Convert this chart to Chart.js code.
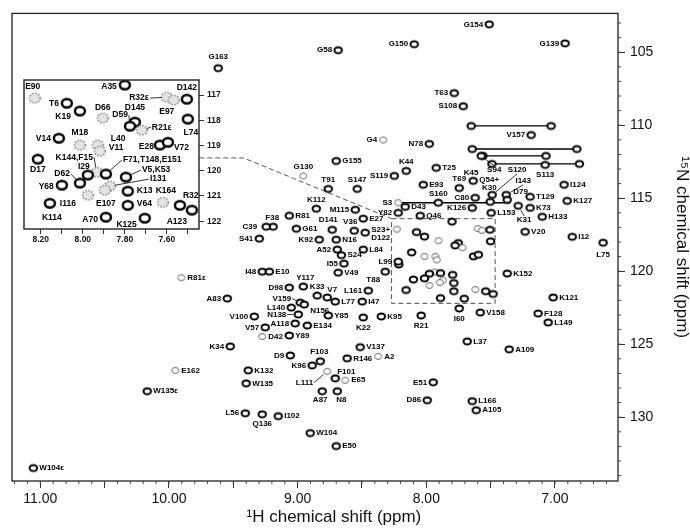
<!DOCTYPE html>
<html>
<head>
<meta charset="utf-8">
<script src="https://cdn.jsdelivr.net/npm/chart.js@4.4.0/dist/chart.umd.min.js"></script>
<style>
  html, body { margin: 0; padding: 0; background: #fff; }
  #wrap { position: relative; width: 690px; height: 528px; }
  #main { position: absolute; left: 0; top: 0; }
  #inset { position: absolute; left: 14px; top: 70px; }
</style>
</head>
<body>
<div id="wrap">
  <canvas id="main" width="690" height="528"></canvas>
  <canvas id="inset" width="240" height="190"></canvas>
</div>
<script>
// assigned peaks outside the boxed region (1H ppm, 15N ppm)
const mainNames = ['G163','G58','G150','G154','G139','T63','S108','V157','G4','N78','G155','K44','T25','G130','S119','T91','S147','E93','T69','K45',
  'K112','S3','D43','Y82','S160','C80','Q54+\nK30','S120','S94','K126','Q46','I143','D79','K31','T129','K73','H133','L153','V20','I12',
  'L75','I124','K127','S113','M115','E27','F38','C39','R81','G61','S41','D141','V36','S23+\nD122','K92','N16','A52','S24','L84','L99',
  'I55','I48','E10','V49','T88','R81ε','A83','D98','Y117','K33','V7','L77','L161','I47','V159','L140','N156','N138','V100','Y85',
  'K22','K95','R21','I60','A118','E134','V57','D42','Y89','K34','V137','A2','R146','D9','F103','K96','K132','W135','E162','W135ε',
  'F101','L111','E65','E51','A87','N8','D86','L166','A105','L56','Q136','I102','W104','E50','W104ε','L37','A109','K152','K121','V158',
  'F128','L149'];
const mainH = [9.617,8.685,8.094,7.511,6.921,7.783,7.713,7.185,8.335,7.977,8.700,8.156,7.923,8.956,8.249,8.762,8.537,8.024,7.744,7.636,
  8.855,8.218,8.164,8.218,7.907,7.620,7.503,7.488,7.573,7.643,8.047,7.379,7.371,7.286,7.193,7.193,7.099,7.496,7.232,6.866,
  6.626,6.929,6.905,7.076,8.552,8.490,9.190,9.244,9.065,9.010,9.298,8.731,8.560,8.475,8.832,8.700,8.692,8.660,8.490,8.218,
  8.640,9.275,9.220,8.685,8.319,9.904,9.547,9.065,8.956,8.848,8.770,8.708,8.451,8.498,8.980,9.050,8.949,8.995,9.337,8.762,
  8.490,8.350,8.040,7.744,9.019,8.925,9.252,9.275,9.065,9.524,8.514,8.374,8.615,9.057,8.824,8.887,9.384,9.400,9.951,10.169,
  8.708,8.770,8.630,7.946,8.809,8.692,7.993,7.643,7.612,9.407,9.275,9.151,8.902,8.700,11.054,7.682,7.356,7.371,7.014,7.581,
  7.131,7.053];
const mainN = [106.09,104.86,104.45,103.09,104.39,107.80,108.70,110.67,111.01,111.28,112.45,113.13,112.92,113.47,113.47,114.36,114.36,114.08,114.30,113.81,
  115.72,115.31,115.59,116.00,115.31,114.97,115.25,114.77,112.10,115.66,116.20,114.77,115.11,115.52,114.90,115.66,116.27,116.00,117.30,117.64,
  118.05,114.08,115.18,112.72,115.79,116.40,116.95,116.95,116.20,117.09,117.77,117.16,117.23,117.36,117.84,117.84,118.52,118.90,118.52,119.34,
  119.48,120.03,120.03,120.10,120.03,120.44,121.87,121.12,121.05,121.67,121.80,122.08,121.33,122.08,122.15,122.49,122.28,122.96,123.10,123.03,
  123.17,123.10,123.03,122.55,123.58,123.72,123.85,124.47,124.40,125.15,125.20,125.83,125.97,125.77,126.17,126.45,126.79,127.68,126.79,128.22,
  127.34,126.86,127.47,127.61,128.22,128.22,128.84,128.90,129.52,129.73,129.80,129.93,131.09,131.98,133.48,124.81,125.35,120.16,121.80,122.83,
  122.90,123.51];

// crowded centre, shown enlarged in the inset
const insetNames = ['E90','A35','T6','K19','D66','D145','D59','R32ε','E97','D142','L74','R21ε','M18','V14','L40','V11','E28','V72','D17',
  'K144,F15','F71,T148,E151','I29','D62','V5,K53','I131','Y68','K13','E107','I116','K164','R32','A123','V64','K114','A70','K125'];
const insetH = [8.229,7.800,8.076,8.014,7.905,7.752,7.776,7.600,7.567,7.505,7.500,7.719,8.014,8.114,7.929,7.919,7.633,7.595,8.214,
  7.933,7.890,7.976,8.014,7.795,7.871,8.100,7.786,7.895,7.976,7.619,7.538,7.481,7.786,8.157,7.890,7.705];
const insetN = [117.12,116.60,117.32,117.63,117.91,118.07,118.23,117.08,117.20,117.16,117.95,118.39,118.98,118.71,118.98,119.22,118.98,118.87,119.54,
  120.06,120.13,120.17,120.49,120.25,120.61,120.57,120.81,120.77,120.97,121.25,121.37,121.56,121.37,121.29,121.84,121.88];

// side-chain NH2 pairs joined by a line
const pairN = [110.05, 111.63, 112.10, 112.65];
const pairA = [7.651, 7.643, 7.560, 7.490];
const pairB = [7.030, 6.830, 7.070, 6.810];
const linkN = 115.31;
const linkH = [8.218, 7.348];

// zoomed region and its connector
const boxH = [8.27, 7.465];
const boxN = [116.4, 122.2];
const connector = [[9.765, 112.24], [9.42, 112.24], [8.27, 116.4]];

const weakMain = new Set(['G130','S3','R81ε','E162','A2','D42','E65','L111','G4']);
const weakInset = new Set(['E90','D66','R32ε','E97','R21ε','M18','L40','V11','K144,F15','I131','I116','E107','K164']);

// label placement: [dx, dy, align, leader]
const leftMain = ['G58','G150','G154','G139','T63','S108','V157','G4','N78','S119','S3','Y82','C80','K126','M115','S41','K92','A52','L99',
  'I55','I48','A83','D98','L161','L140','V100','A118','V57','K34','D9','K96','E51','D86','L56'];
const topMain = ['K44','G130','T91','S147','T69','K112','S160','K33'];
const bottomMain = ['S113','K22','R21','I60','Q136'];
const customMain = {
  'G163': [0,-11,'c'], 'K45': [-2,-8,'c'], 'Q54+\nK30': [-1,-22,'c'], 'S23+\nD122': [6,-3,'l'],
  'S120': [25,-25,'c',1], 'S94': [13,14,'c',1], 'I143': [17,-14,'c',1], 'D79': [6,-8,'l'], 'K31': [6,14,'c',1],
  'D141': [-4,-10,'c'], 'V36': [-4,-9,'c'], 'F38': [-1,-9,'c'], 'C39': [-9,0,'r'], 'T88': [-12,8,'c'],
  'N156': [6,6,'l'], 'V159': [-9,-4,'r',1], 'N138': [-12,0,'r',1], 'L111': [-14,11,'r',1], 'F101': [2,-7,'l'],
  'A87': [-2,9,'c'], 'N8': [4,9,'c'], 'L75': [0,12,'c'], 'Y117': [2,-9,'c'], 'V7': [5,-8,'c'], 'F103': [-1,-9,'c']
};
function placeMain(n) {
  if (customMain[n]) return customMain[n];
  if (leftMain.includes(n)) return [-6,0,'r'];
  if (topMain.includes(n)) return [0,-9,'c'];
  if (bottomMain.includes(n)) return [0,10,'c'];
  return [6,0,'l'];
}
const customInset = {
  'E90': [-2,-11,'c'], 'A35': [-8,2,'r'], 'T6': [-8,0,'r'], 'K19': [-9,6,'r'], 'D66': [0,-10,'c'], 'D145': [0,-14,'c'],
  'D59': [-2,-11,'r',1], 'R32ε': [-18,1,'r',1], 'E97': [-7,11,'c'], 'D142': [0,-12,'c'], 'L74': [3,14,'c'],
  'R21ε': [10,-3,'l',1], 'M18': [0,-12,'c'], 'V14': [-8,0,'r'], 'L40': [13,-6,'l'], 'V11': [9,-3,'l'],
  'E28': [-6,2,'r'], 'V72': [6,5,'l'], 'D17': [0,10,'c'], 'K144,F15': [-4,-15,'r',1], 'F71,T148,E151': [17,-14,'l',1],
  'I29': [-4,-8,'c'], 'D62': [-10,-9,'r',1], 'V5,K53': [16,-7,'l',1], 'I131': [40,-7,'l',1], 'Y68': [-8,2,'r'],
  'K13': [9,-1,'l'], 'E107': [1,13,'c'], 'I116': [-12,8,'r'], 'K164': [3,-12,'c'], 'R32': [3,-10,'l'],
  'A123': [-15,12,'c'], 'V64': [9,-2,'l'], 'K114': [2,14,'c'], 'A70': [-8,3,'r'], 'K125': [-8,6,'r']
};
function placeInset(n) { return customInset[n] || [8,0,'l']; }

function ring(w, h, lw, stroke, fill, dash) {
  const c = document.createElement('canvas');
  c.width = Math.ceil(w + lw * 2 + 1);
  c.height = Math.ceil(h + lw * 2 + 1);
  const g = c.getContext('2d');
  g.beginPath();
  g.ellipse(c.width / 2, c.height / 2, w / 2, h / 2, 0, 0, Math.PI * 2);
  g.fillStyle = fill; g.fill();
  if (dash) g.setLineDash(dash);
  g.lineWidth = lw; g.strokeStyle = stroke; g.stroke();
  return c;
}
const ringMain = ring(7.5, 6, 2, '#000', '#fff');
const ringWeak = ring(7, 6, 1, '#666', '#fff');
const ringBig = ring(10, 8.5, 2.4, '#000', '#fff');
const ringFaint = ring(11, 9.5, 1.6, '#888', '#e4e4e4', [1.5, 1.5]);

const labelSets = {
  main: { font: 'bold 8px Arial', lineH: 8, place: placeMain },
  inset: { font: 'bold 8.5px Arial', lineH: 9, place: placeInset }
};

const peakLabels = {
  id: 'peakLabels',
  afterDatasetsDraw(chart) {
    const ctx = chart.ctx;
    chart.data.datasets.forEach((ds, di) => {
      if (!ds.names) return;
      const set = labelSets[ds.labelSet];
      const pts = chart.getDatasetMeta(di).data;
      ctx.save();
      ctx.font = set.font;
      ctx.fillStyle = '#000';
      ctx.strokeStyle = '#000';
      ctx.lineWidth = 0.8;
      ctx.textBaseline = 'middle';
      ds.names.forEach((name, i) => {
        if (!name) return;
        const p = pts[i];
        const [dx, dy, align, leader] = set.place(name);
        const x = p.x + dx, y = p.y + dy;
        if (leader) {
          let sx = x, sy = y;
          if (align === 'l') sx -= 1; else if (align === 'r') sx += 1; else sy += dy < 0 ? 4 : -4;
          const ang = Math.atan2(sy - p.y, sx - p.x);
          ctx.beginPath();
          ctx.moveTo(sx, sy);
          ctx.lineTo(p.x + Math.cos(ang) * 5, p.y + Math.sin(ang) * 5);
          ctx.stroke();
        }
        ctx.textAlign = align === 'l' ? 'left' : align === 'r' ? 'right' : 'center';
        name.split('\n').forEach((t, k) => ctx.fillText(t, x, y + k * set.lineH));
      });
      ctx.restore();
    });
  }
};

// short minor ticks outside the frame
function minorTicks(ctx, scale, step, len, horizontal, edge) {
  const lo = Math.min(scale.min, scale.max), hi = Math.max(scale.min, scale.max);
  ctx.beginPath();
  for (let v = Math.ceil(lo / step) * step; v <= hi; v += step) {
    const p = scale.getPixelForValue(v);
    if (horizontal) { ctx.moveTo(p, edge); ctx.lineTo(p, edge + len); }
    else { ctx.moveTo(edge, p); ctx.lineTo(edge + len, p); }
  }
  ctx.stroke();
}

const frame = {
  id: 'frame',
  beforeDatasetsDraw(chart) {
    const {ctx, chartArea: a} = chart;
    if (chart.canvas.id === 'inset') {
      ctx.save(); ctx.fillStyle = '#fff'; ctx.fillRect(a.left, a.top, a.right - a.left, a.bottom - a.top); ctx.restore();
      return;
    }
    const sx = chart.scales.x, sy = chart.scales.y;
    ctx.save();
    ctx.strokeStyle = '#555'; ctx.lineWidth = 1; ctx.setLineDash([5, 3]);
    const x0 = sx.getPixelForValue(boxH[0]), x1 = sx.getPixelForValue(boxH[1]);
    const y0 = sy.getPixelForValue(boxN[0]), y1 = sy.getPixelForValue(boxN[1]);
    ctx.strokeRect(x0, y0, x1 - x0, y1 - y0);
    ctx.beginPath();
    connector.forEach(([h, n], i) => {
      const px = sx.getPixelForValue(h), py = sy.getPixelForValue(n);
      i ? ctx.lineTo(px, py) : ctx.moveTo(px, py);
    });
    ctx.stroke();
    ctx.restore();
  },
  afterDraw(chart) {
    const {ctx, chartArea: a} = chart;
    ctx.save();
    ctx.strokeStyle = '#222';
    ctx.lineWidth = chart.canvas.id === 'inset' ? 1.4 : 1.3;
    ctx.strokeRect(a.left, a.top, a.right - a.left, a.bottom - a.top);
    if (chart.canvas.id === 'main') {
      ctx.lineWidth = 1;
      ctx.strokeStyle = '#444';
      minorTicks(ctx, chart.scales.x, 0.1, 3, true, a.bottom);
      minorTicks(ctx, chart.scales.y, 1, 3, false, a.right);
    }
    ctx.restore();
  }
};

const nearInt = (v, s) => Math.abs(v / s - Math.round(v / s)) < 1e-6;

new Chart(document.getElementById('main'), {
  type: 'scatter',
  data: {
    datasets: [
      { labelSet: 'main', names: mainNames,
        data: mainH.map((h, i) => ({x: h, y: mainN[i]})),
        pointStyle: c => weakMain.has(mainNames[c.dataIndex]) ? ringWeak : ringMain },
      { data: insetH.map((h, i) => ({x: h, y: insetN[i]})),
        pointStyle: c => weakInset.has(insetNames[c.dataIndex]) ? ringWeak : ringMain },
      ...pairN.map((n, i) => ({
        data: [{x: pairA[i], y: n}, {x: pairB[i], y: n}],
        showLine: true, borderColor: '#000', borderWidth: 1.3, pointStyle: ringMain
      })),
      { data: linkH.map(h => ({x: h, y: linkN})), showLine: true, borderColor: '#000', borderWidth: 1.3, pointRadius: 0 }
    ]
  },
  options: {
    responsive: false, animation: false, events: [],
    layout: { padding: { left: 12, top: 12, right: 0, bottom: 0 } },
    plugins: { legend: { display: false }, tooltip: { enabled: false } },
    scales: {
      x: {
        type: 'linear', reverse: true, min: 6.51, max: 11.22,
        ticks: { stepSize: 0.5, includeBounds: false, autoSkip: false, maxRotation: 0, padding: 3,
          color: '#111', font: { family: 'Arial', size: 14 },
          callback: v => nearInt(v, 1) ? v.toFixed(2) : '' },
        grid: { drawOnChartArea: false, tickLength: 7, color: '#333' },
        border: { display: false },
        title: { display: true, text: '        ¹H chemical shift (ppm)', color: '#111',
          font: { family: 'Arial', size: 17, lineHeight: 1 }, padding: { top: 0, bottom: 2 } },
        afterFit: s => { s.height = 47; }
      },
      y: {
        type: 'linear', reverse: true, position: 'right', min: 102.34, max: 134.37,
        ticks: { stepSize: 5, includeBounds: false, padding: 5, color: '#111', font: { family: 'Arial', size: 14 },
          callback: v => String(Math.round(v)) },
        grid: { drawOnChartArea: false, tickLength: 7, color: '#333' },
        border: { display: false },
        title: { display: true, text: '¹⁵N chemical shift (ppm)', color: '#111',
          font: { family: 'Arial', size: 17, lineHeight: 1 }, padding: { top: 0, bottom: 0 } },
        afterFit: s => { s.width = 72; }
      }
    }
  },
  plugins: [frame, peakLabels]
});

new Chart(document.getElementById('inset'), {
  type: 'scatter',
  data: {
    datasets: [
      { labelSet: 'inset', names: insetNames,
        data: insetH.map((h, i) => ({x: h, y: insetN[i]})),
        pointStyle: c => weakInset.has(insetNames[c.dataIndex]) ? ringFaint : ringBig }
    ]
  },
  options: {
    responsive: false, animation: false, events: [],
    layout: { padding: { left: 10, top: 10, right: 0, bottom: 0 } },
    plugins: { legend: { display: false }, tooltip: { enabled: false } },
    scales: {
      x: {
        type: 'linear', reverse: true, min: 7.447, max: 8.28,
        ticks: { stepSize: 0.1, includeBounds: false, autoSkip: false, maxRotation: 0, padding: 1,
          color: '#111', font: { family: 'Arial', size: 8.5, weight: 'bold' },
          callback: v => nearInt(v, 0.2) ? v.toFixed(2) : '' },
        grid: { drawOnChartArea: false, tickLength: 5, color: '#333' },
        border: { display: false },
        afterFit: s => { s.height = 31; }
      },
      y: {
        type: 'linear', reverse: true, position: 'right', min: 116.4, max: 122.31,
        ticks: { stepSize: 1, includeBounds: false, padding: 3, color: '#111',
          font: { family: 'Arial', size: 8.5, weight: 'bold' }, callback: v => String(Math.round(v)) },
        grid: { drawOnChartArea: false, tickLength: 5, color: '#333' },
        border: { display: false },
        afterFit: s => { s.width = 55; }
      }
    }
  },
  plugins: [frame, peakLabels]
});
</script>
</body>
</html>
